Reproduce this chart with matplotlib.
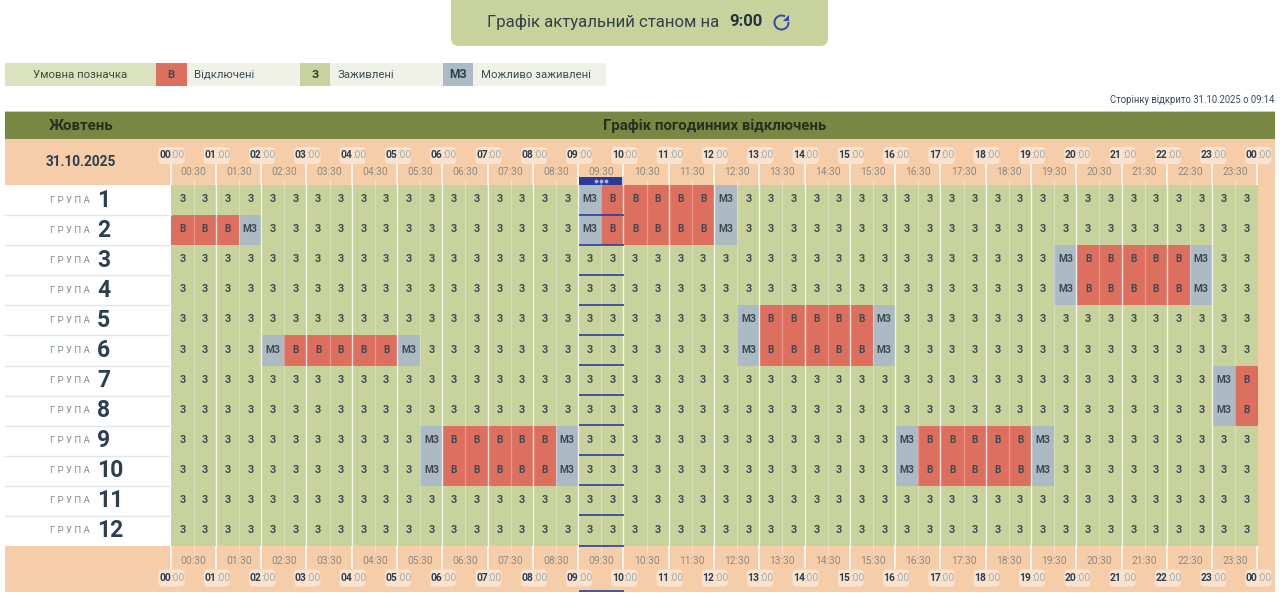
import matplotlib
matplotlib.use("Agg")
import numpy as np
from matplotlib import pyplot as plt
from matplotlib.colors import ListedColormap
from matplotlib.patches import Rectangle, FancyBboxPatch, Arc, Polygon

plt.rcParams['font.family'] = ['Roboto', 'DejaVu Sans']

month = "Жовтень"
date_label = "31.10.2025"
table_title = "Графік погодинних відключень"
opened_label = "Сторінку відкрито 31.10.2025 о 09:14"
actual_time = "9:00"
groups = ['1', '2', '3', '4', '5', '6', '7', '8', '9', '10', '11', '12']
hour_labels = ['%02d' % h for h in list(range(24)) + [0]]
half_labels = ['%02d:30' % h for h in range(24)]

# one pair per hour, 00 to 23: Z = З, B = В, M = МЗ
group_1  = "ZZ ZZ ZZ ZZ ZZ ZZ ZZ ZZ ZZ MB BB BB MZ ZZ ZZ ZZ ZZ ZZ ZZ ZZ ZZ ZZ ZZ ZZ"
group_2  = "BB BM ZZ ZZ ZZ ZZ ZZ ZZ ZZ MB BB BB MZ ZZ ZZ ZZ ZZ ZZ ZZ ZZ ZZ ZZ ZZ ZZ"
group_3  = "ZZ ZZ ZZ ZZ ZZ ZZ ZZ ZZ ZZ ZZ ZZ ZZ ZZ ZZ ZZ ZZ ZZ ZZ ZZ ZM BB BB BM ZZ"
group_4  = "ZZ ZZ ZZ ZZ ZZ ZZ ZZ ZZ ZZ ZZ ZZ ZZ ZZ ZZ ZZ ZZ ZZ ZZ ZZ ZM BB BB BM ZZ"
group_5  = "ZZ ZZ ZZ ZZ ZZ ZZ ZZ ZZ ZZ ZZ ZZ ZZ ZM BB BB BM ZZ ZZ ZZ ZZ ZZ ZZ ZZ ZZ"
group_6  = "ZZ ZZ MB BB BB MZ ZZ ZZ ZZ ZZ ZZ ZZ ZM BB BB BM ZZ ZZ ZZ ZZ ZZ ZZ ZZ ZZ"
group_7  = "ZZ ZZ ZZ ZZ ZZ ZZ ZZ ZZ ZZ ZZ ZZ ZZ ZZ ZZ ZZ ZZ ZZ ZZ ZZ ZZ ZZ ZZ ZZ MB"
group_8  = "ZZ ZZ ZZ ZZ ZZ ZZ ZZ ZZ ZZ ZZ ZZ ZZ ZZ ZZ ZZ ZZ ZZ ZZ ZZ ZZ ZZ ZZ ZZ MB"
group_9  = "ZZ ZZ ZZ ZZ ZZ ZM BB BB BM ZZ ZZ ZZ ZZ ZZ ZZ ZZ MB BB BB MZ ZZ ZZ ZZ ZZ"
group_10 = "ZZ ZZ ZZ ZZ ZZ ZM BB BB BM ZZ ZZ ZZ ZZ ZZ ZZ ZZ MB BB BB MZ ZZ ZZ ZZ ZZ"
group_11 = "ZZ ZZ ZZ ZZ ZZ ZZ ZZ ZZ ZZ ZZ ZZ ZZ ZZ ZZ ZZ ZZ ZZ ZZ ZZ ZZ ZZ ZZ ZZ ZZ"
group_12 = "ZZ ZZ ZZ ZZ ZZ ZZ ZZ ZZ ZZ ZZ ZZ ZZ ZZ ZZ ZZ ZZ ZZ ZZ ZZ ZZ ZZ ZZ ZZ ZZ"
schedule = [group_1, group_2, group_3, group_4, group_5, group_6,
            group_7, group_8, group_9, group_10, group_11, group_12]
current_slots = [18, 19]

# colours
GREEN = '#c7d29c'
RED = '#dd6f5f'
GREY = '#acbac4'
PEACH = '#f5cda9'
OLIVE = '#788742'
DARK = '#2c3e50'
BLUE = '#2a3b9c'
cell_text = {'Z': 'З', 'B': 'В', 'M': 'МЗ'}
cell_code = {'Z': 0, 'B': 1, 'M': 2}

# layout in pixels
W, H = 1280, 598
LEFT, RIGHT = 5, 1275
GRID_L, GRID_R = 171, 1257.9
GRID_T, GRID_B = 185, 546
SLOT = (GRID_R - GRID_L) / 48
ROW = (GRID_B - GRID_T) / 12

fig = plt.figure(figsize=(W / 100, H / 100), dpi=100, facecolor='white')

# the coloured schedule, in slot / row units
grid = fig.add_axes([GRID_L / W, 1 - GRID_B / H, (GRID_R - GRID_L) / W, (GRID_B - GRID_T) / H], zorder=1)
rows = [s.replace(' ', '') for s in schedule]
codes = np.array([[cell_code[c] for c in r] for r in rows])
grid.pcolormesh(np.arange(49), np.arange(13), codes, cmap=ListedColormap([GREEN, RED, GREY]),
                vmin=0, vmax=2, zorder=1)
for i in range(1, 48):
    if i % 2 == 0:
        grid.axvline(i - 0.02, color='white', linewidth=1.0, alpha=0.8, zorder=2)
    else:
        grid.axvline(i, color='white', linewidth=0.9, alpha=0.28, zorder=2)
grid.set_xlim(0, 48)
grid.set_ylim(12, 0)
grid.axis('off')
for r, row in enumerate(rows):
    for i, c in enumerate(row):
        grid.text(i + 0.5, r + 0.47, cell_text[c], ha='center', va='center', fontsize=7.2,
                  fontweight='bold', color='#3d4a50', zorder=4)

# everything around it, in pixels
ax = fig.add_axes([0, 0, 1, 1], zorder=2)
ax.set_xlim(0, W)
ax.set_ylim(H, 0)
ax.axis('off')
ax.patch.set_alpha(0)


def rect(x0, y0, x1, y1, color, **kw):
    ax.add_patch(Rectangle((x0, y0), x1 - x0, y1 - y0, facecolor=color, edgecolor='none', **kw))


# top button
ax.add_patch(FancyBboxPatch((451, -20), 377, 66, boxstyle="round,pad=0,rounding_size=8",
                            facecolor=GREEN, edgecolor='none'))
ax.text(487, 22, "Графік актуальний станом на", fontsize=12.1, color='#33414a', va='center')
ax.text(729, 22, actual_time, fontsize=12.1, color='#25323a', fontweight='bold', va='center')
ax.add_patch(Arc((781.5, 22.5), 14, 14, theta1=-5, theta2=300, color='#3348a8', linewidth=1.4))
ax.add_patch(Polygon([(789, 14.5), (789, 21), (783, 21)], facecolor='#3348a8', edgecolor='none'))

# legend
rect(5, 63, 156, 86, '#dbe2c0')
rect(156, 63, 187, 86, RED)
rect(187, 63, 300, 86, '#f0f2e8')
rect(300, 63, 330, 86, GREEN)
rect(330, 63, 443, 86, '#f0f2e8')
rect(443, 63, 473, 86, GREY)
rect(473, 63, 606, 86, '#f0f2e8')
ax.text(80.5, 74.5, "Умовна позначка", fontsize=8.2, color='#3e4b3f', ha='center', va='center')
ax.text(171, 74.5, "В", fontsize=8, fontweight='bold', color='#3d4a50', ha='center', va='center')
ax.text(315, 74.5, "З", fontsize=8.2, fontweight='bold', color='#2c3a30', ha='center', va='center')
ax.text(458, 74.5, "МЗ", fontsize=8.6, fontweight='bold', color='#2c3e50', ha='center', va='center')
ax.text(194, 74.5, "Відключені", fontsize=8.2, color='#3f4e58', va='center')
ax.text(337, 74.5, "Заживлені", fontsize=8.2, color='#3f4e58', va='center')
ax.text(481, 74.5, "Можливо заживлені", fontsize=8.2, color='#3f4e58', va='center')

ax.text(1274, 100, opened_label, fontsize=6.85, color='#3a4a5a', ha='right', va='center')

# table header and footer
rect(LEFT, 111, RIGHT, 139, OLIVE)
rect(LEFT, 111, RIGHT, 112, '#c9cfb0')
rect(LEFT, 139, RIGHT, GRID_T, PEACH)
rect(LEFT, GRID_B, RIGHT, 592, PEACH)
rect(GRID_R, GRID_T, RIGHT, GRID_B, PEACH)
ax.text(81, 126, month, fontsize=10.8, fontweight='bold', color='#263020', ha='center', va='center')
ax.text(715, 126, table_title, fontsize=10.8, fontweight='bold', color='#263020', ha='center', va='center')
ax.text(81, 162, date_label, fontsize=9.8, fontweight='bold', color=DARK, ha='center', va='center')

# group names
for r, g in enumerate(groups):
    y = GRID_T + (r + 0.5) * ROW
    ax.text(69.5, y, "Г Р У П А", fontsize=6.8, color='#7f8c96', ha='center', va='center')
    ax.text(97, y, g, fontsize=16.5, fontweight='bold', color=DARK, va='center')
    if r < 11:
        ax.plot([LEFT, GRID_L], [GRID_T + (r + 1) * ROW] * 2, color='#e3e6e8', linewidth=1)

# hour and half hour lines outside the grid, with their labels on top and bottom
for i, h in enumerate(hour_labels):
    x = GRID_L - 0.5 + i * 2 * SLOT
    ax.plot([x, x], [164, GRID_T], color='white', linewidth=1.1, solid_capstyle='butt')
    ax.plot([x, x], [GRID_B, 569], color='white', linewidth=1.1, solid_capstyle='butt')
    for yc in (155.5, 578):
        ax.add_patch(FancyBboxPatch((x - 12, yc - 8.5), 26, 17, boxstyle="round,pad=0,rounding_size=4",
                                    facecolor='#f9e3cf', edgecolor='none'))
        ax.text(x + 0.3, yc, h, fontsize=7.4, fontweight='bold', color=DARK, ha='right', va='center')
        ax.text(x + 0.3, yc, ":00", fontsize=7.4, color='#a9a9a4', ha='left', va='center')
for i, h in enumerate(half_labels):
    x = GRID_L + (2 * i + 1) * SLOT
    ax.plot([x, x], [180, GRID_T], color='white', linewidth=0.9, solid_capstyle='butt', alpha=0.4)
    ax.plot([x, x], [GRID_B, 553], color='white', linewidth=0.9, solid_capstyle='butt', alpha=0.4)
    for yc in (172, 561):
        ax.text(x, yc, h, fontsize=7.4, color='#8f8a80', ha='center', va='center')

# current half hour marker
x0 = GRID_L + current_slots[0] * SLOT
x1 = GRID_L + (current_slots[-1] + 1) * SLOT
rect(x0, 177, x1, GRID_T, BLUE)
ax.plot([(x0 + x1) / 2 - 5, (x0 + x1) / 2, (x0 + x1) / 2 + 5], [181, 181, 181], linestyle='none',
        marker='o', markersize=1.7, color='#a9b4e0')
for r in range(1, 13):
    ax.plot([x0, x1], [GRID_T + r * ROW - 0.5] * 2, color=BLUE, linewidth=1.3, solid_capstyle='butt', alpha=0.9)
ax.plot([x0, x1], [590.5, 590.5], color=BLUE, linewidth=1.3, solid_capstyle='butt', alpha=0.9)

fig.savefig("out.png", dpi=100)
